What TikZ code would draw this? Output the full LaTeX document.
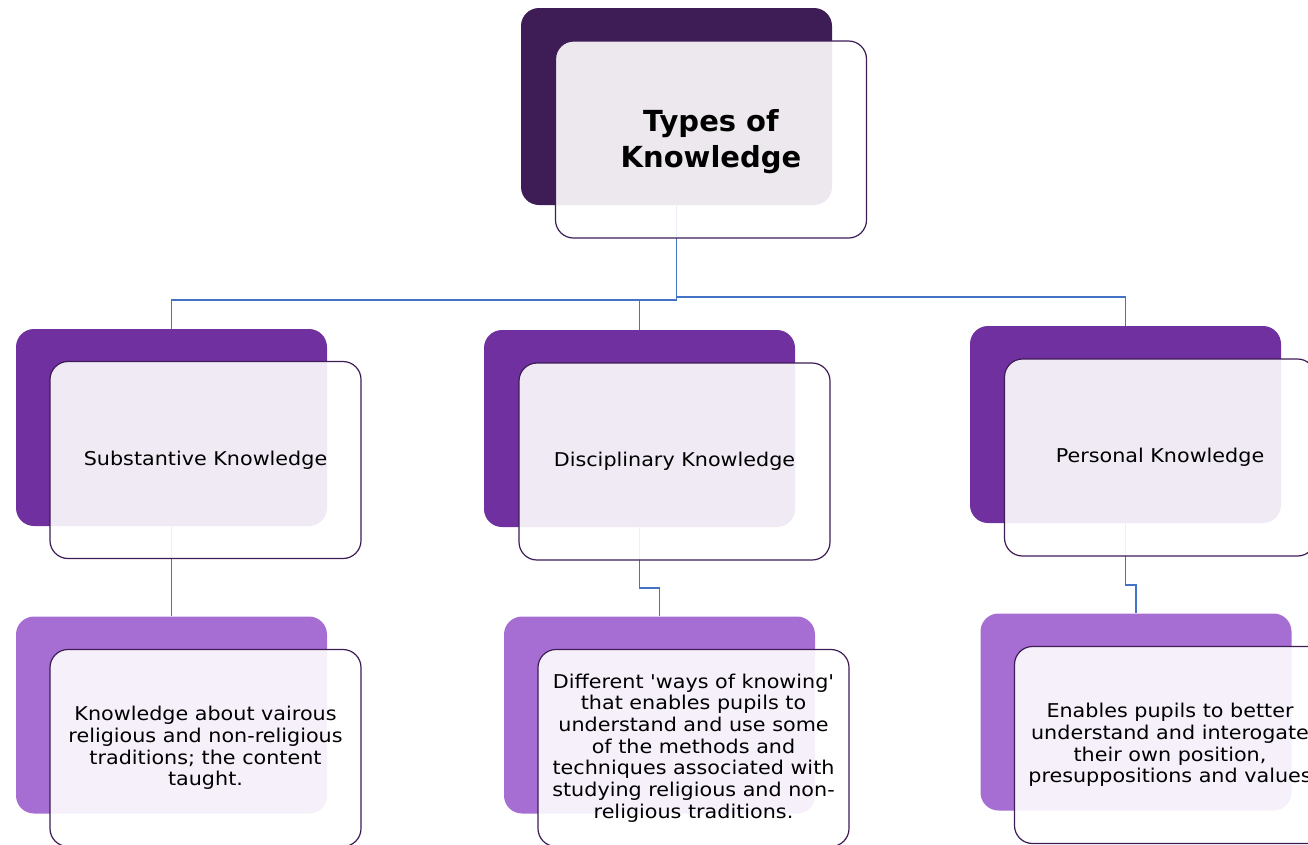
\documentclass[tikz,border=0pt]{standalone}
\usepackage{fontspec}
\setmainfont{DejaVu Sans}
\newfontfamily\handfont[FakeStretch=1.09]{DejaVu Sans}
\definecolor{topback}{HTML}{3E1C56}
\definecolor{midback}{HTML}{7030A0}
\definecolor{lowback}{HTML}{A66ED2}
\definecolor{edgec}{HTML}{3E1C56}
\definecolor{connc}{HTML}{4472C4}
\tikzset{
  box/.style={minimum width=311pt, minimum height=197pt, inner sep=0pt, rounded corners=18pt},
  backbox/.style={box, fill=#1},
  frontbox/.style={box, draw=edgec, line width=1.2pt, fill=white, fill opacity=0.9, text opacity=1},
  conn/.style={draw=connc, line width=1.4pt},
  titletext/.style={font=\fontsize{29}{36}\selectfont\bfseries, align=center, text=black},
  midtext/.style={font=\handfont\fontsize{19}{22}\selectfont, align=center, text=black},
  lowtext/.style={font=\handfont\fontsize{19}{21.7}\selectfont, align=center, text=black},
}
\begin{document}
\begin{tikzpicture}[x=1pt, y=-1pt]
\useasboundingbox (0,0) rectangle (1308,844);
\clip (0,0) rectangle (1308,844);
% back boxes
\node[backbox=topback] (tb) at (676.5,106.5) {};
\node[backbox=midback] (Lb) at (171.5,427.5) {};
\node[backbox=midback] (Mb) at (639.5,428.5) {};
\node[backbox=midback] (Rb) at (1125.5,424.5) {};
\node[backbox=lowback] (L2b) at (171.5,715) {};
\node[backbox=lowback] (M2b) at (659.5,715) {};
\node[backbox=lowback] (R2b) at (1136,712) {};
% connector joints
\coordinate (busL) at (677,300);
\coordinate (busR) at (677,297);
\coordinate (jM) at (640,588);
\coordinate (jR) at (1126,585);
% connectors
\draw[conn] (tb.south) -- (tb.south |- busL) -| (Lb.north);
\draw[conn] (tb.south |- busL) -| (Mb.north);
\draw[conn] (tb.south) -- (tb.south |- busR) -| (Rb.north);
\draw[conn] (Lb.south) -- (L2b.north);
\draw[conn] (Mb.south) -- (Mb.south |- jM) -| (M2b.north);
\draw[conn] (Rb.south) -- (Rb.south |- jR) -| (R2b.north);
% front boxes
\node[frontbox] (tf) at (711,139.5) {};
\node[frontbox] (Lf) at (205.5,460) {};
\node[frontbox] (Mf) at (674.5,461.5) {};
\node[frontbox] (Rf) at (1160,457.5) {};
\node[frontbox] (L2f) at (205.5,748) {};
\node[frontbox] (M2f) at (693.5,748) {};
\node[frontbox] (R2f) at (1170,745) {};
% texts
\node[titletext] (tt) at ([yshift=-2pt]tf.center) {Types of\\Knowledge};
\node[midtext] (Lt) at (Lf.center) {Substantive Knowledge};
\node[midtext] (Mt) at (Mf.center) {Disciplinary Knowledge};
\node[midtext] (Rt) at (Rf.center) {Personal Knowledge};
\node[lowtext] (L2t) at (L2f.center) {Knowledge about vairous\\religious and non-religious\\traditions; the content\\taught.};
\node[lowtext] (M2t) at (M2f.center) {Different 'ways of knowing'\\that enables pupils to\\understand and use some\\of the methods and\\techniques associated with\\studying religious and non-\\religious traditions.};
\node[lowtext] (R2t) at (R2f.center) {Enables pupils to better\\understand and interogate\\their own position,\\presuppositions and values};
\end{tikzpicture}
\end{document}
